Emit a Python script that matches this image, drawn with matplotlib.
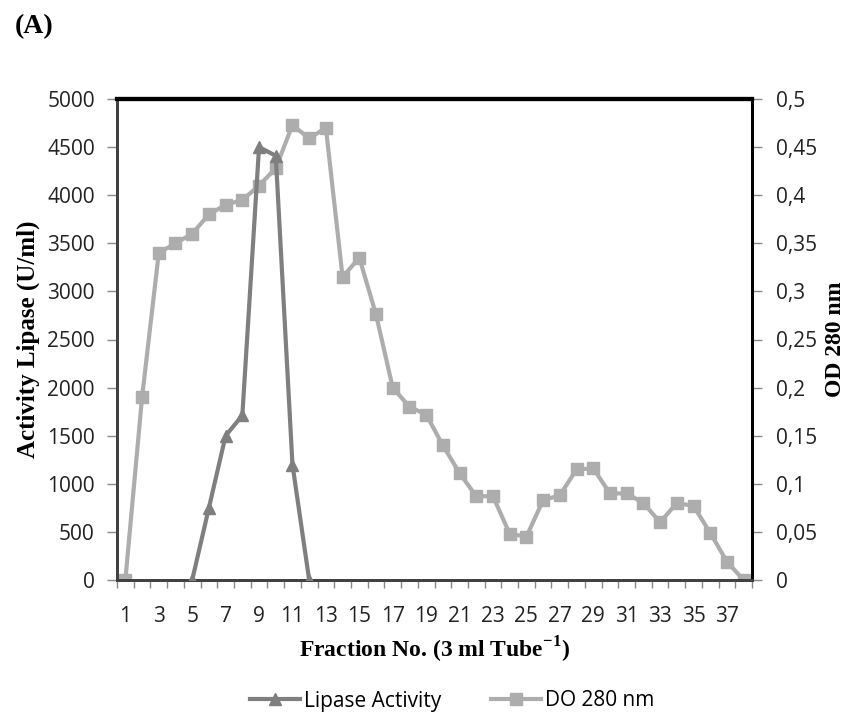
import matplotlib
matplotlib.use("Agg")
import matplotlib.pyplot as plt
import numpy as np

fractions = list(range(1, 39))
lipase_fractions = [5, 6, 7, 8, 9, 10, 11, 12]
lipase_activity = [0, 750, 1500, 1710, 4500, 4410, 1200, 0]
do280 = [0, 0.19, 0.34, 0.35, 0.36, 0.38, 0.39, 0.395, 0.41, 0.428,
         0.473, 0.459, 0.47, 0.315, 0.335, 0.276, 0.2, 0.18, 0.172, 0.14,
         0.111, 0.087, 0.087, 0.048, 0.045, 0.083, 0.088, 0.115, 0.116, 0.09,
         0.09, 0.08, 0.06, 0.08, 0.077, 0.049, 0.019, 0]
left_ticks = [0, 500, 1000, 1500, 2000, 2500, 3000, 3500, 4000, 4500, 5000]
right_ticks = [0, 0.05, 0.1, 0.15, 0.2, 0.25, 0.3, 0.35, 0.4, 0.45, 0.5]
right_labels = ["0", "0,05", "0,1", "0,15", "0,2", "0,25", "0,3", "0,35", "0,4", "0,45", "0,5"]
x_labels = list(range(1, 39, 2))

TICK_FONT = "Open Sans"
TITLE_FONT = "Liberation Serif"
c_lip = "#7f7f7f"
c_do = "#adadad"
TFS = 15

fig = plt.figure(figsize=(8.52, 7.15), dpi=100)
ax = fig.add_axes([117/852, 1-580/715, 635/852, 481/715])
ax2 = ax.twinx()

ax2.plot(fractions, do280, color=c_do, lw=3, marker="s", ms=8, zorder=2,
         label="DO 280 nm")
ax.plot(lipase_fractions, lipase_activity, color=c_lip, lw=3, marker="^", ms=9,
        zorder=3, label="Lipase Activity")
ax.set_zorder(ax2.get_zorder() + 1)
ax.patch.set_visible(False)

ax.set_xlim(0.5, 38.5)
ax.set_ylim(0, 5000)
ax2.set_ylim(0, 0.5)

ax.set_yticks(left_ticks)
ax.set_yticklabels([str(v) for v in left_ticks], fontfamily=TICK_FONT, fontsize=TFS, color="#222222")
ax2.set_yticks(right_ticks)
ax2.set_yticklabels(right_labels, fontfamily=TICK_FONT, fontsize=TFS, color="#222222")

ax.set_xticks(np.arange(0.5, 39, 1))
ax.set_xticklabels([])
ax.set_xticks(x_labels, minor=True)
ax.set_xticklabels([str(v) for v in x_labels], minor=True, fontfamily=TICK_FONT,
                   fontsize=TFS, color="#222222")
ax.tick_params(axis="x", which="minor", length=0, pad=19)
ax.tick_params(axis="x", which="major", length=6, width=1, color="#888888", direction="out")
ax.tick_params(axis="y", length=7, width=1, color="#888888", direction="out", pad=9)
ax2.tick_params(axis="y", length=7, width=1, color="#888888", direction="out", pad=10)

for a in (ax, ax2):
    a.spines["top"].set_linewidth(3)
    a.spines["top"].set_color("black")
    a.spines["left"].set_linewidth(2)
    a.spines["left"].set_color("#404040")
    a.spines["bottom"].set_linewidth(2)
    a.spines["bottom"].set_color("#404040")
    a.spines["right"].set_linewidth(2)
    a.spines["right"].set_color("black")

fig.text(434/852, 1-658/715, "Fraction No. (3 ml Tube$^{\\mathregular{-1}}$)",
         fontfamily=TITLE_FONT, fontweight="bold", fontsize=17, ha="center", va="baseline")
ax.set_ylabel("Activity Lipase (U/ml)", fontfamily=TITLE_FONT, fontweight="bold",
              fontsize=18, labelpad=5)
ax2.set_ylabel("OD 280 nm", fontfamily=TITLE_FONT, fontweight="bold", fontsize=17,
               labelpad=6)

fig.text(15/852, 1-27/715, "(A)", fontfamily=TITLE_FONT, fontsize=20, va="center",
         ha="left", fontweight="bold")

h1, l1 = ax.get_legend_handles_labels()
h2, l2 = ax2.get_legend_handles_labels()
fig.legend(h1 + h2, l1 + l2, loc="center", bbox_to_anchor=(452/852, 1-701/715),
           ncol=2, frameon=False, prop={"family": TICK_FONT, "size": TFS},
           handlelength=2.4, columnspacing=2.4, handletextpad=0.2)

fig.savefig("out.png", dpi=100)
